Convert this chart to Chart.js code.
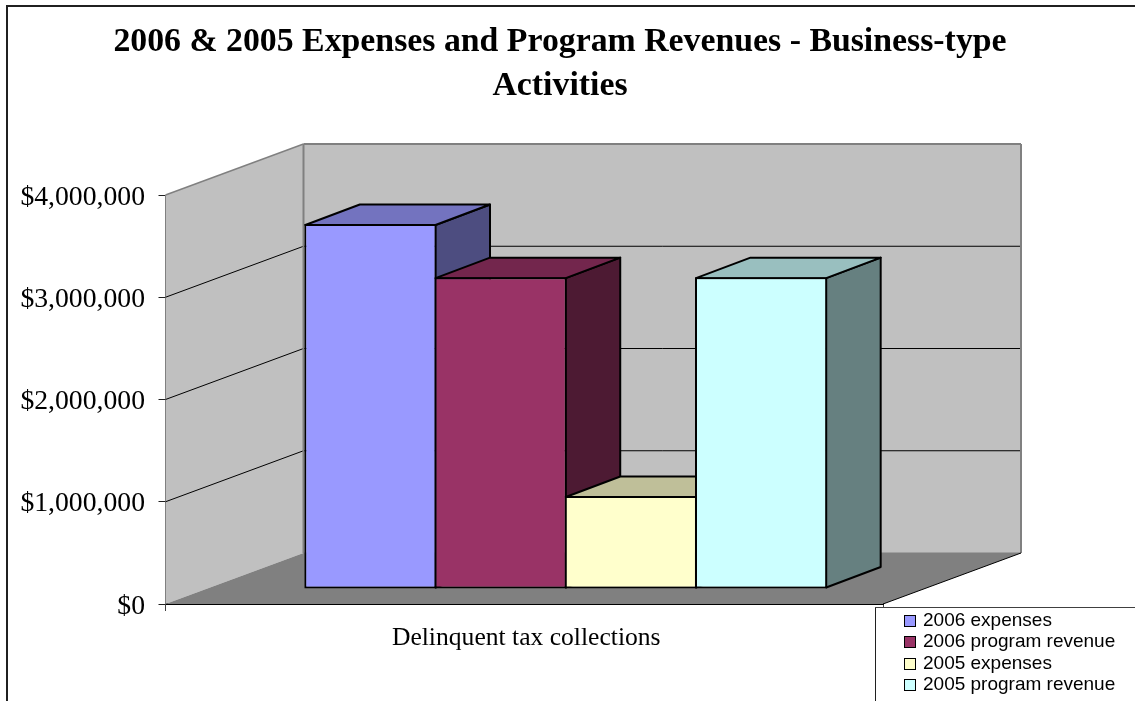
<!DOCTYPE html>
<html>
<head>
<meta charset="utf-8">
<title>Expenses and Program Revenues</title>
<script src="https://cdn.jsdelivr.net/npm/chart.js@4/dist/chart.umd.min.js"></script>
<style>
  html, body { margin: 0; padding: 0; background: #ffffff; }
  canvas { display: block; }
</style>
</head>
<body>
<canvas id="expensesChart" width="1135" height="701"></canvas>
<script>
const titleLines = ["2006 & 2005 Expenses and Program Revenues - Business-type", "Activities"];
const categories = ["Delinquent tax collections"];
const seriesNames = ["2006 expenses", "2006 program revenue", "2005 expenses", "2005 program revenue"];
const expenses2006 = [3570000];
const revenue2006 = [3050000];
const expenses2005 = [910000];
const revenue2005 = [3050000];
const seriesValues = [expenses2006, revenue2006, expenses2005, revenue2005];
const tickValues = [0, 1000000, 2000000, 3000000, 4000000];

const frontColors = ["#9999ff", "#993366", "#ffffcc", "#ccffff"];
const topColors = ["#7373bf", "#73264d", "#bfbf99", "#99bfbf"];
const sideColors = ["#4d4d80", "#4d1a33", "#808066", "#668080"];

const WALL = "#c0c0c0";
const FLOOR = "#808080";
const WALL_EDGE = "#808080";
const BAR_LINE = 2;
const SERIF = '"Liberation Serif", "Times New Roman", serif';
const SANS = '"Liberation Sans", Arial, sans-serif';

// full depth of the box, and where the bars stand inside it
const depth = { x: 138, y: -51 };
const barShift = { x: 41.5, y: -15 };
const barDepth = { x: 54.5, y: -20.5 };

function quad(ctx, pts, fill, stroke, lineWidth) {
  ctx.beginPath();
  ctx.moveTo(pts[0][0], pts[0][1]);
  for (let i = 1; i < pts.length; i++) ctx.lineTo(pts[i][0], pts[i][1]);
  ctx.closePath();
  if (fill) {
    ctx.fillStyle = fill;
    ctx.fill();
  }
  if (stroke) {
    ctx.strokeStyle = stroke;
    ctx.lineWidth = lineWidth || 1;
    ctx.stroke();
  }
}

function line(ctx, x1, y1, x2, y2, color, lineWidth) {
  ctx.beginPath();
  ctx.moveTo(x1, y1);
  ctx.lineTo(x2, y2);
  ctx.strokeStyle = color;
  ctx.lineWidth = lineWidth || 1;
  ctx.stroke();
}

function drawFrameAndTitle(ctx) {
  line(ctx, 7, 5, 7, 701, "#202020", 2);
  line(ctx, 6, 6, 1135, 6, "#202020", 2);
  ctx.fillStyle = "#000000";
  ctx.font = "bold 33.8px " + SERIF;
  ctx.textAlign = "center";
  ctx.textBaseline = "alphabetic";
  ctx.fillText(titleLines[0], 560, 51);
  ctx.fillText(titleLines[1], 560, 95);
}

function drawBox(chart) {
  const ctx = chart.ctx;
  const { left, right, top, bottom } = chart.chartArea;
  const dx = depth.x;
  const dy = depth.y;

  quad(ctx, [[left, top], [left + dx, top + dy], [left + dx, bottom + dy], [left, bottom]], WALL);
  quad(ctx, [[left + dx, top + dy], [right + dx, top + dy], [right + dx, bottom + dy], [left + dx, bottom + dy]], WALL);
  quad(ctx, [[left, bottom], [left + dx, bottom + dy], [right + dx, bottom + dy], [right, bottom]], FLOOR);

  const y = chart.scales.y;
  tickValues.slice(1, -1).forEach(function (v) {
    const py = y.getPixelForValue(v);
    line(ctx, left, py, left + dx, py + dy, "#000000", 1);
    line(ctx, left + dx, py + dy, right + dx, py + dy, "#000000", 1);
  });

  line(ctx, left, top, left + dx, top + dy, WALL_EDGE, 1.5);
  line(ctx, left + dx, top + dy, right + dx, top + dy, WALL_EDGE, 2);
  line(ctx, left + dx, top + dy, left + dx, bottom + dy, WALL_EDGE, 2);
  line(ctx, right + dx, top + dy, right + dx, bottom + dy, WALL_EDGE, 2);
  line(ctx, left + dx, bottom + dy, right + dx, bottom + dy, WALL_EDGE, 1);
  line(ctx, right, bottom, right + dx, bottom + dy, "#000000", 1);
}

// side and top faces first, then the library paints the front.
// The library insets its border, so the faces start half a line in.
function drawBar(chart, meta, i) {
  const ctx = chart.ctx;
  const bar = meta.data[0];
  const inset = BAR_LINE / 2;
  const x0 = bar.x - bar.width / 2 + inset + barShift.x;
  const x1 = bar.x + bar.width / 2 - inset + barShift.x;
  const yTop = bar.y + inset + barShift.y;
  const yBase = bar.base - inset + barShift.y;
  const bx = barDepth.x;
  const by = barDepth.y;

  ctx.save();
  ctx.lineJoin = "round";
  quad(ctx, [[x1, yTop], [x1 + bx, yTop + by], [x1 + bx, yBase + by], [x1, yBase]], sideColors[i], "#000000", BAR_LINE);
  quad(ctx, [[x0, yTop], [x1, yTop], [x1 + bx, yTop + by], [x0 + bx, yTop + by]], topColors[i], "#000000", BAR_LINE);
  ctx.translate(barShift.x, barShift.y);
  meta.controller.draw();
  ctx.restore();
}

function drawTickLabels(chart) {
  const ctx = chart.ctx;
  const y = chart.scales.y;
  ctx.fillStyle = "#000000";
  ctx.font = "27.7px " + SERIF;
  ctx.textAlign = "right";
  ctx.textBaseline = "alphabetic";
  y.ticks.forEach(function (tick) {
    ctx.fillText(tick.label, 145, y.getPixelForValue(tick.value) + 9.5);
  });
}

function drawLegend(chart) {
  const ctx = chart.ctx;
  ctx.fillStyle = "#ffffff";
  ctx.fillRect(875, 608, 260, 93);
  line(ctx, 875.5, 607, 875.5, 701, "#202020", 1);
  line(ctx, 875, 607.5, 1135, 607.5, "#404040", 1);
  const rows = [621, 642, 664, 685];
  ctx.font = "19px " + SANS;
  ctx.textAlign = "left";
  ctx.textBaseline = "middle";
  chart.data.datasets.forEach(function (ds, i) {
    ctx.fillStyle = ds.backgroundColor;
    ctx.fillRect(905, rows[i] - 5, 10, 10);
    ctx.strokeStyle = "#000000";
    ctx.lineWidth = 1;
    ctx.strokeRect(904.5, rows[i] - 5.5, 11, 11);
    ctx.fillStyle = "#000000";
    ctx.fillText(ds.label, 923, rows[i]);
  });
}

const boxPlugin = {
  id: "box3d",
  beforeDatasetsDraw(chart) {
    const ctx = chart.ctx;
    ctx.save();
    drawFrameAndTitle(ctx);
    drawBox(chart);
    ctx.restore();
    // bars go left to right so each one overlaps the previous side face
    chart.getSortedVisibleDatasetMetas().forEach(function (meta) {
      drawBar(chart, meta, meta.index);
    });
    return false;
  },
  afterDraw(chart) {
    const ctx = chart.ctx;
    ctx.save();
    drawTickLabels(chart);
    drawLegend(chart);
    ctx.restore();
  },
};

new Chart(document.getElementById("expensesChart").getContext("2d"), {
  type: "bar",
  data: {
    labels: categories,
    datasets: seriesValues.map(function (values, i) {
      return {
        label: seriesNames[i],
        data: values,
        backgroundColor: frontColors[i],
        borderColor: "#000000",
        borderWidth: BAR_LINE,
        borderSkipped: false,
        // slightly over 1 so neighbouring borders land on the same pixels
        barPercentage: 1.015,
        categoryPercentage: 0.726,
      };
    }),
  },
  plugins: [boxPlugin],
  options: {
    responsive: false,
    animation: false,
    layout: { padding: { left: 0, top: 195, right: 252, bottom: 0 } },
    plugins: {
      legend: { display: false },
      title: { display: false },
      tooltip: { enabled: false },
    },
    scales: {
      x: {
        afterFit: function (scale) {
          scale.height = 97;
        },
        grid: { offset: true, drawOnChartArea: false, tickLength: 7, color: "#404040" },
        border: { color: "#000000", width: 2 },
        ticks: {
          padding: 12,
          labelOffset: 2,
          color: "#000000",
          font: { family: SERIF, size: 25.6 },
          maxRotation: 0,
        },
      },
      y: {
        min: 0,
        max: 4000000,
        afterFit: function (scale) {
          scale.width = 165.5;
        },
        afterBuildTicks: function (scale) {
          scale.ticks = tickValues.map(function (v) {
            return { value: v };
          });
        },
        grid: { drawOnChartArea: false, tickLength: 7, color: "#202020" },
        border: { color: "#404040", width: 1 },
        ticks: {
          display: false,
          callback: function (value) {
            return "$" + value.toLocaleString("en-US");
          },
        },
      },
    },
  },
});
</script>
</body>
</html>
